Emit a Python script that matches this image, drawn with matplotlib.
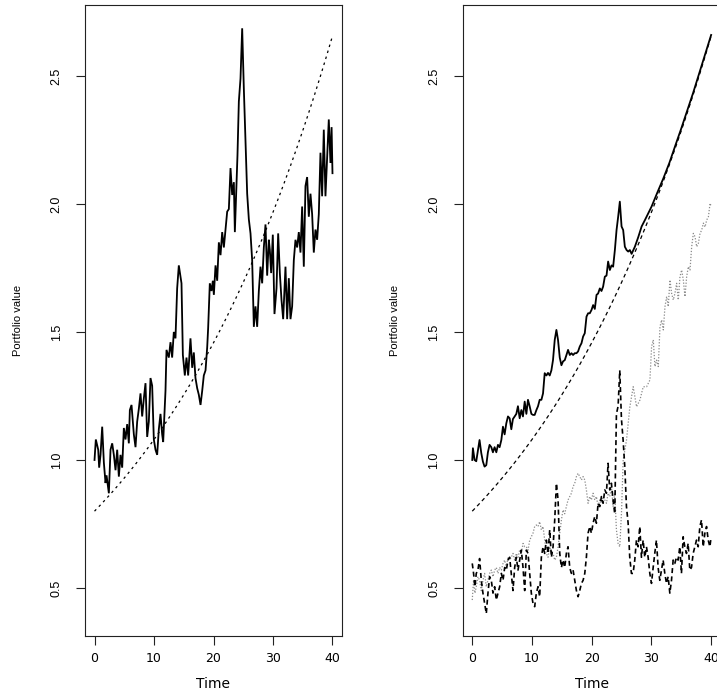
import matplotlib
matplotlib.use("Agg")
import matplotlib.pyplot as plt

plt.rcParams['font.family'] = ['Liberation Sans', 'DejaVu Sans']

# ---- risky asset path (left panel) ----
stock_t = [0.0, 0.22, 0.62, 0.78, 1.01, 1.29, 1.57, 1.85, 2.02, 2.41, 2.69, 2.97, 3.25, 3.53,
           3.81, 4.09, 4.37, 4.65, 4.93, 5.21, 5.49, 5.77, 5.94, 6.22, 6.61, 6.89, 7.17, 7.45,
           7.73, 8.01, 8.29, 8.57, 8.85, 9.13, 9.41, 9.69, 9.97, 10.25, 10.53, 10.81, 11.09,
           11.37, 11.54, 11.93, 12.10, 12.49, 12.77, 13.05, 13.33, 13.61, 13.89, 14.17, 14.62,
           14.85, 15.18, 15.46, 15.74, 16.13, 16.42, 16.69, 16.97, 17.26, 17.53, 17.82, 18.10,
           18.37, 18.66, 18.94, 19.10, 19.38, 19.66, 19.89, 20.06, 20.34, 20.62, 20.90, 21.18,
           21.46, 21.74, 22.02, 22.30, 22.58, 22.86, 23.14, 23.42, 23.59, 23.81, 24.03, 24.26,
           24.54, 24.82, 25.10, 25.38, 25.66, 25.94, 26.22, 26.50, 26.78, 27.06, 27.34, 27.62,
           27.90, 28.18, 28.46, 28.74, 29.02, 29.30, 29.47, 29.69, 29.97, 30.25, 30.59, 30.87,
           31.15, 31.43, 31.71, 32.10, 32.38, 32.66, 32.94, 33.22, 33.50, 33.78, 34.06, 34.34,
           34.62, 34.90, 35.18, 35.46, 35.74, 36.02, 36.30, 36.58, 36.86, 37.14, 37.42, 37.70,
           37.98, 38.26, 38.54, 38.82, 39.10, 39.38, 39.66, 39.85, 40.0]
stock_v = [1.00, 1.08, 1.04, 0.97, 1.02, 1.13, 0.99, 0.91, 0.94, 0.87, 1.04, 1.065, 1.02, 0.96,
           1.04, 0.935, 1.02, 0.97, 1.125, 1.08, 1.14, 1.065, 1.195, 1.215, 1.10, 1.05, 1.15, 1.20,
           1.26, 1.17, 1.24, 1.30, 1.09, 1.15, 1.32, 1.29, 1.08, 1.04, 1.02, 1.12, 1.18,
           1.10, 1.07, 1.27, 1.43, 1.40, 1.46, 1.40, 1.50, 1.475, 1.67, 1.76, 1.69,
           1.41, 1.33, 1.40, 1.33, 1.475, 1.36, 1.42, 1.32, 1.28, 1.255, 1.215, 1.27,
           1.33, 1.35, 1.44, 1.515, 1.69, 1.66, 1.70, 1.645, 1.76, 1.70, 1.85, 1.80,
           1.89, 1.83, 1.90, 1.97, 1.98, 2.14, 2.035, 2.085, 1.89, 2.035, 2.19, 2.40,
           2.49, 2.686, 2.45, 2.25, 2.04, 1.94, 1.885, 1.78, 1.52, 1.60, 1.52, 1.66,
           1.755, 1.69, 1.83, 1.92, 1.72, 1.86, 1.82, 1.73, 1.88, 1.57, 1.67, 1.885,
           1.73, 1.625, 1.55, 1.755, 1.55, 1.71, 1.55, 1.60, 1.78, 1.86, 1.83, 1.89,
           1.81, 1.99, 1.755, 2.07, 2.105, 1.95, 2.04, 1.96, 1.81, 1.90, 1.86, 1.96,
           2.20, 2.03, 2.29, 2.03, 2.18, 2.33, 2.16, 2.30, 2.12]

# ---- insured floor ----
floor_t = list(range(0, 41))
floor_v = [0.8000, 0.8244, 0.8495, 0.8753, 0.9020, 0.9295, 0.9578, 0.9869, 1.0170, 1.0480,
           1.0799, 1.1128, 1.1467, 1.1816, 1.2176, 1.2547, 1.2929, 1.3322, 1.3728, 1.4146,
           1.4577, 1.5021, 1.5478, 1.5950, 1.6436, 1.6936, 1.7452, 1.7983, 1.8531, 1.9095,
           1.9677, 2.0276, 2.0894, 2.1530, 2.2186, 2.2861, 2.3558, 2.4275, 2.5014, 2.5776,
           2.6561]

# ---- insured portfolio value (right panel, solid) ----
cppi_t = [0.0, 0.11, 0.39, 0.67, 1.22, 1.51, 1.78, 2.06, 2.35, 2.62, 2.90, 3.19, 3.46, 3.74,
          4.03, 4.30, 4.58, 4.87, 5.14, 5.42, 5.70, 5.98, 6.26, 6.54, 6.81, 7.10, 7.38, 7.65,
          7.94, 8.22, 8.49, 8.78, 9.06, 9.33, 9.61, 9.90, 10.17, 10.45, 10.74, 11.01, 11.29,
          11.58, 11.85, 12.13, 12.42, 12.68, 12.97, 13.25, 13.52, 13.81, 14.09, 14.36, 14.65,
          14.93, 15.20, 15.49, 15.77, 16.04, 16.33, 16.61, 16.88, 17.16, 17.45, 17.72, 18.00,
          18.29, 18.56, 18.84, 19.13, 19.40, 19.68, 19.97, 20.24, 20.52, 20.81, 21.07, 21.36,
          21.64, 21.91, 22.20, 22.48, 22.75, 23.04, 23.32, 23.59, 23.88, 24.16, 24.43, 24.71,
          25.00, 25.27, 25.55, 25.84, 26.11, 26.39, 26.68, 27.23, 27.79, 28.36, 28.91, 29.46,
          30.03, 31.0, 32.0, 33.0, 34.0, 35.0, 36.0, 37.0, 38.0, 39.0, 40.0]
cppi_v = [1.0, 1.046, 1.00, 0.995, 1.078, 1.027, 0.994, 0.974, 0.98, 1.03, 1.059, 1.05, 1.03, 1.05,
          1.03, 1.059, 1.05, 1.078, 1.13, 1.10, 1.143, 1.17, 1.163, 1.12, 1.16, 1.17, 1.18, 1.21,
          1.163, 1.195, 1.17, 1.228, 1.18, 1.235, 1.21, 1.18, 1.176, 1.176, 1.195, 1.21, 1.235,
          1.235, 1.26, 1.339, 1.33, 1.34, 1.33, 1.35, 1.39, 1.469, 1.508, 1.469, 1.40,
          1.37, 1.385, 1.39, 1.41, 1.43, 1.41, 1.417, 1.41, 1.417, 1.417, 1.424, 1.443,
          1.456, 1.482, 1.495, 1.56, 1.573, 1.573, 1.586, 1.605, 1.59, 1.645, 1.65, 1.67,
          1.66, 1.677, 1.716, 1.72, 1.775, 1.742, 1.76, 1.755, 1.82, 1.898, 1.95, 2.009,
          1.912, 1.898, 1.833, 1.82, 1.814, 1.82, 1.805, 1.833, 1.87, 1.912, 1.937, 1.963,
          1.99, 2.045, 2.10, 2.16, 2.228, 2.295, 2.365, 2.435, 2.51, 2.585, 2.66]

# ---- second strategy (right panel, black dashed) ----
dash_t = [0.0, 0.22, 0.45, 0.67, 0.95, 1.23, 1.51, 1.79, 2.07, 2.35, 2.63, 2.91, 3.19, 3.47,
          3.75, 4.03, 4.31, 4.59, 4.87, 5.15, 5.43, 5.71, 5.98, 6.26, 6.54, 6.82, 7.10, 7.38,
          7.66, 7.94, 8.22, 8.50, 8.78, 9.06, 9.34, 9.62, 9.89, 10.17, 10.45, 10.73, 11.01,
          11.29, 11.57, 11.85, 12.13, 12.41, 12.69, 12.97, 13.25, 13.53, 13.81, 14.09, 14.37,
          14.65, 14.93, 15.20, 15.48, 15.76, 16.04, 16.32, 16.60, 16.88, 17.16, 17.44, 17.72,
          18.00, 18.28, 18.56, 18.84, 19.11, 19.39, 19.67, 19.95, 20.23, 20.51, 20.79, 21.07,
          21.35, 21.63, 21.91, 22.19, 22.47, 22.74, 23.02, 23.30, 23.58, 23.86, 24.14, 24.42,
          24.70, 24.98, 25.26, 25.54, 25.82, 26.10, 26.37, 26.65, 26.93, 27.21, 27.49, 27.77,
          28.05, 28.33, 28.61, 28.89, 29.17, 29.45, 29.73, 30.01, 30.29, 30.56, 30.84, 31.12,
          31.40, 31.68, 31.96, 32.24, 32.52, 32.80, 33.08, 33.36, 33.64, 33.92, 34.19, 34.47,
          34.75, 35.03, 35.31, 35.59, 35.87, 36.15, 36.43, 36.71, 36.99, 37.27, 37.55, 37.83,
          38.11, 38.39, 38.67, 38.95, 39.23, 39.51, 39.79, 40.0]
dash_v = [0.596, 0.557, 0.505, 0.557, 0.57, 0.615, 0.53, 0.48, 0.44, 0.40, 0.48, 0.544, 0.53, 0.48,
          0.505, 0.453, 0.48, 0.505, 0.557, 0.53, 0.58, 0.57, 0.609, 0.62, 0.557, 0.49, 0.58, 0.62,
          0.57, 0.609, 0.648, 0.58, 0.49, 0.648, 0.635, 0.557, 0.48, 0.44, 0.427, 0.48, 0.505,
          0.466, 0.62, 0.661, 0.635, 0.687, 0.635, 0.727, 0.62, 0.661, 0.766, 0.909, 0.844,
          0.635, 0.58, 0.609, 0.58, 0.635, 0.661, 0.58, 0.557, 0.57, 0.53, 0.49, 0.466,
          0.49, 0.518, 0.53, 0.557, 0.62, 0.714, 0.74, 0.714, 0.753, 0.779, 0.753, 0.831,
          0.818, 0.857, 0.831, 0.883, 0.87, 0.987, 0.883, 0.909, 0.844, 0.79, 1.18, 1.21,
          1.35, 1.16, 1.078, 0.974, 0.818, 0.753, 0.62, 0.557, 0.557, 0.609, 0.687, 0.661,
          0.74, 0.62, 0.687, 0.62, 0.661, 0.62, 0.557, 0.518, 0.58, 0.635, 0.687, 0.58,
          0.53, 0.57, 0.609, 0.557, 0.518, 0.544, 0.48, 0.53, 0.609, 0.596, 0.62, 0.609,
          0.661, 0.557, 0.70, 0.661, 0.635, 0.674, 0.57, 0.58, 0.635, 0.661, 0.687, 0.661,
          0.74, 0.766, 0.661, 0.714, 0.74, 0.687, 0.661, 0.70]

# ---- third strategy (right panel, grey dotted) ----
dot_t = [0.00, 0.22, 0.45, 0.67, 0.95, 1.23, 1.51, 1.79, 2.07, 2.35, 2.63, 2.91, 3.19, 3.47,
         3.75, 4.03, 4.31, 4.59, 4.87, 5.15, 5.43, 5.71, 5.98, 6.26, 6.54, 6.82, 7.10, 7.38,
         7.66, 7.94, 8.22, 8.50, 8.78, 9.06, 9.34, 9.62, 9.89, 10.17, 10.45, 10.73, 11.01,
         11.29, 11.57, 11.85, 12.13, 12.41, 12.69, 12.97, 13.25, 13.53, 13.81, 14.09, 14.37,
         14.65, 14.93, 15.20, 15.48, 15.76, 16.04, 16.32, 16.60, 16.88, 17.16, 17.44, 17.72,
         18.00, 18.28, 18.56, 18.84, 19.11, 19.39, 19.67, 19.95, 20.23, 20.51, 20.79, 21.07,
         21.35, 21.63, 21.91, 22.19, 22.47, 22.74, 23.02, 23.30, 23.58, 23.86, 24.14, 24.42,
         24.70, 25.00, 25.27, 25.83, 26.39, 26.95, 27.51, 28.07, 28.63, 29.19, 29.75, 30.03,
         30.31, 30.59, 30.87, 31.15, 31.43, 31.71, 31.99, 32.27, 32.55, 32.82, 33.10, 33.38,
         33.66, 33.94, 34.22, 34.50, 34.78, 35.06, 35.34, 35.62, 35.90, 36.18, 36.46, 36.74,
         37.02, 37.30, 37.58, 37.86, 38.14, 38.42, 38.70, 38.98, 39.26, 39.54, 39.82, 40.0]
dot_v = [0.453, 0.53, 0.48, 0.505, 0.544, 0.53, 0.49, 0.53, 0.557, 0.505, 0.53, 0.557, 0.57, 0.544,
         0.57, 0.58, 0.557, 0.58, 0.57, 0.596, 0.609, 0.58, 0.62, 0.609, 0.62, 0.635, 0.609, 0.635,
         0.62, 0.648, 0.635, 0.674, 0.661, 0.661, 0.648, 0.687, 0.70, 0.714, 0.74, 0.746, 0.74,
         0.759, 0.727, 0.74, 0.687, 0.635, 0.62, 0.661, 0.635, 0.635, 0.609, 0.62, 0.661,
         0.714, 0.766, 0.805, 0.79, 0.818, 0.844, 0.857, 0.87, 0.896, 0.909, 0.935, 0.948,
         0.935, 0.922, 0.935, 0.922, 0.883, 0.831, 0.857, 0.844, 0.87, 0.844, 0.857, 0.818,
         0.844, 0.831, 0.857, 0.844, 0.831, 0.87, 0.857, 0.896, 0.818, 0.87, 0.727, 0.674,
         0.661, 0.80, 1.00, 1.078, 1.208, 1.286, 1.208, 1.234, 1.286, 1.286, 1.3125, 1.443,
         1.469, 1.365, 1.39, 1.365, 1.52, 1.547, 1.508, 1.599, 1.638, 1.599, 1.703, 1.651,
         1.625, 1.651, 1.69, 1.625, 1.716, 1.742, 1.703, 1.638, 1.716, 1.755, 1.742, 1.833,
         1.885, 1.872, 1.833, 1.846, 1.885, 1.898, 1.925, 1.91, 1.9375, 1.95, 2.003, 1.99]

x_ticks = [0, 10, 20, 30, 40]
y_ticks = [0.5, 1.0, 1.5, 2.0, 2.5]
x_range = (-1.6, 41.6)
y_range = (0.3125, 2.777)

W, H = 717, 693
fig = plt.figure(figsize=(W / 100, H / 100), dpi=100)
ax_left = fig.add_axes([85 / W, 57 / H, 257 / W, 631 / H])
ax_right = fig.add_axes([462.7 / W, 57 / H, 258 / W, 631 / H])

# left: risky asset against the floor
ax_left.plot(stock_t, stock_v, color='black', lw=1.3, solid_joinstyle='miter')
ax_left.plot(floor_t, floor_v, color='black', lw=0.9, linestyle=(0, (2.0, 3.0)))

# right: strategies against the floor
ax_right.plot(floor_t, floor_v, color='black', lw=0.9, linestyle=(0, (3.0, 2.6)))
ax_right.plot(dot_t, dot_v, color='#8a8a8a', lw=0.9, linestyle=(0, (1.0, 1.4)))
ax_right.plot(dash_t, dash_v, color='black', lw=1.2, linestyle=(0, (3.0, 2.0)))
ax_right.plot(cppi_t, cppi_v, color='black', lw=1.3)

for ax in (ax_left, ax_right):
    ax.set_xlim(*x_range)
    ax.set_ylim(*y_range)
    ax.set_xticks(x_ticks)
    ax.set_yticks(y_ticks)
    ax.set_xticklabels([str(v) for v in x_ticks], family=['DejaVu Sans'], fontsize=9)
    ax.set_yticklabels([f"{v:.1f}" for v in y_ticks], rotation=90, va='center',
                       ha='right', fontsize=9)
    ax.tick_params(axis='both', direction='out', length=6.8, width=0.8, color='#222222')
    ax.tick_params(axis='x', pad=5.0)
    ax.tick_params(axis='y', pad=9.3)
    for sp in ax.spines.values():
        sp.set_linewidth(0.8)
        sp.set_color('#222222')
    ax.set_xlabel('Time', family=['DejaVu Sans'], fontsize=10, va='center')
    ax.xaxis.set_label_coords(0.5, -48 / 631)
    ax.set_ylabel('Portfolio value', fontsize=8, va='center')
    ax.yaxis.set_label_coords(-67 / 257, 0.5)

fig.savefig('out.png', dpi=100)
